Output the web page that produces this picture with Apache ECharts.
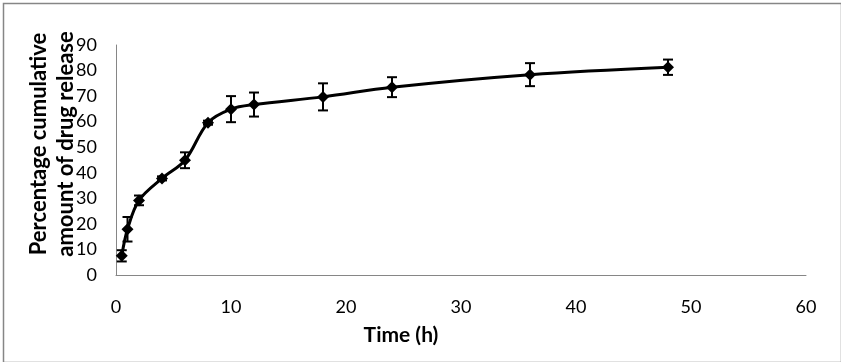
<!DOCTYPE html>
<html>
<head>
<meta charset="utf-8">
<script src="https://cdn.jsdelivr.net/npm/echarts@6/dist/echarts.min.js"></script>
<style>html,body{margin:0;padding:0;background:#fff}#c{width:841px;height:362px}</style>
</head>
<body>
<div id="c"></div>
<script>
var times = [0.5, 1, 2, 4, 6, 8, 10, 12, 18, 24, 36, 48];
var release = [7.5, 17.9, 29.2, 37.8, 44.9, 59.6, 64.9, 66.7, 69.7, 73.5, 78.4, 81.3];
var errors = [2.2, 4.8, 1.9, 0.8, 3.1, 0.8, 5.1, 4.7, 5.3, 3.9, 4.5, 3.0];
var xTicks = [0, 10, 20, 30, 40, 50, 60];
var yTicks = [0, 10, 20, 30, 40, 50, 60, 70, 80, 90];

var font = 'Lato, "Open Sans", sans-serif';
var chart = echarts.init(document.getElementById('c'), null, {renderer: 'canvas'});
var lineData = times.map(function (t, i) { return [t, release[i]]; });
var errData = times.map(function (t, i) { return [t, release[i] - errors[i], release[i] + errors[i]]; });

chart.setOption({
  animation: false,
  backgroundColor: '#fff',
  graphic: [{
    type: 'rect', left: 1, top: 1,
    shape: {width: 838, height: 359},
    style: {fill: 'none', stroke: '#868686', lineWidth: 1.5},
    silent: true
  }],
  grid: {left: 116, right: 35, top: 45, bottom: 87, containLabel: false, outerBoundsMode: 'none'},
  xAxis: {
    type: 'value', min: xTicks[0], max: xTicks[xTicks.length - 1], interval: 10,
    axisLine: {show: true, lineStyle: {color: '#868686', width: 1}},
    axisTick: {show: false},
    splitLine: {show: false},
    axisLabel: {color: '#000', fontSize: 18, fontFamily: font, margin: 23},
    name: 'Time (h)', nameLocation: 'middle', nameGap: 50, nameMoveOverlap: false,
    nameTextStyle: {color: '#000', fontSize: 21, fontWeight: 'bold', fontFamily: font, padding: [0, 120, 0, 0]}
  },
  yAxis: {
    type: 'value', min: yTicks[0], max: yTicks[yTicks.length - 1], interval: 10,
    axisLine: {show: true, lineStyle: {color: '#868686', width: 1}},
    axisTick: {show: false},
    splitLine: {show: false},
    axisLabel: {color: '#000', fontSize: 18, fontFamily: font, margin: 19},
    name: 'Percentage cumulative\namount of drug release', nameLocation: 'middle', nameGap: 37, nameMoveOverlap: false,
    nameTextStyle: {color: '#000', fontSize: 22, fontWeight: 'bold', fontFamily: font, lineHeight: 27, padding: [0, 0, 0, 32]}
  },
  series: [{
    type: 'line', data: lineData, smooth: 0.35,
    symbol: 'diamond', symbolSize: 12,
    lineStyle: {color: '#000', width: 3},
    itemStyle: {color: '#000'},
    z: 3
  }, {
    type: 'custom', data: errData, z: 4,
    renderItem: function (params, api) {
      var x = api.value(0);
      var lo = api.coord([x, api.value(1)]);
      var hi = api.coord([x, api.value(2)]);
      var hw = 5;
      var st = {stroke: '#000', lineWidth: 2};
      return {type: 'group', children: [
        {type: 'line', shape: {x1: lo[0], y1: lo[1], x2: hi[0], y2: hi[1]}, style: st},
        {type: 'line', shape: {x1: lo[0] - hw, y1: lo[1], x2: lo[0] + hw, y2: lo[1]}, style: st},
        {type: 'line', shape: {x1: hi[0] - hw, y1: hi[1], x2: hi[0] + hw, y2: hi[1]}, style: st}
      ]};
    }
  }]
});
</script>
</body>
</html>
